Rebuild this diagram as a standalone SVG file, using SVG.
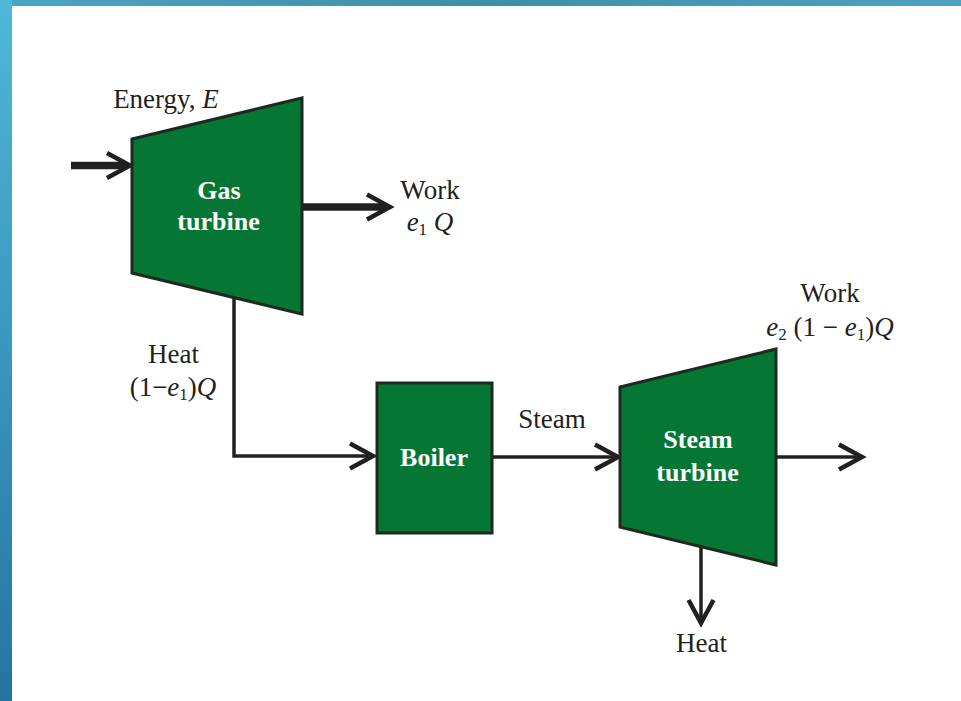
<svg xmlns="http://www.w3.org/2000/svg" width="961" height="701" viewBox="0 0 961 701">
<style>
.lbl{font-family:"Liberation Serif","Times New Roman",serif;font-size:27px;fill:#231f20;text-anchor:middle}
.in{font-family:"Liberation Serif","Times New Roman",serif;font-size:26px;font-weight:bold;fill:#ffffff;text-anchor:middle}
.it{font-style:italic}
.sub{font-size:17px}
.shape{fill:#067634;stroke:#1e2a20;stroke-width:3}
.thin{fill:none;stroke:#231f20;stroke-width:3.5}
.thick{fill:none;stroke:#231f20;stroke-width:7.5}
</style>
<defs>
<linearGradient id="gl" x1="0" y1="0" x2="0" y2="1">
<stop offset="0" stop-color="#4fb8d8"/>
<stop offset="1" stop-color="#2574a0"/>
</linearGradient>
<linearGradient id="gt" x1="0" y1="0" x2="1" y2="0">
<stop offset="0" stop-color="#4aa6c4"/>
<stop offset="0.5" stop-color="#3e8fa8"/>
<stop offset="1" stop-color="#4aa4c2"/>
</linearGradient>
<marker id="chev" markerUnits="userSpaceOnUse" orient="auto" refX="-4" refY="0" markerWidth="40" markerHeight="40" overflow="visible">
<path d="M-23,-12.5 L0,0 L-23,12.5" fill="none" stroke="#231f20" stroke-width="4.5" stroke-linejoin="miter" stroke-miterlimit="10"/>
</marker>
</defs>
<rect x="0" y="0" width="961" height="701" fill="#ffffff"/>
<rect x="0" y="0" width="961" height="6" fill="url(#gt)"/>
<rect x="0" y="0" width="12" height="701" fill="url(#gl)"/>

<g id="connectors">
<path class="thick" d="M71,165.5 L126,165.5" marker-end="url(#chev)"/>
<path class="thick" d="M302,207 L386,207" marker-end="url(#chev)"/>
<path class="thin" d="M234,298 L234,456 L369,456" marker-end="url(#chev)"/>
<path class="thin" d="M492,457 L614,457" marker-end="url(#chev)"/>
<path class="thin" d="M776,457 L858,457" marker-end="url(#chev)"/>
<path class="thin" d="M701,547 L701,619" marker-end="url(#chev)"/>
</g>

<g id="gas-turbine">
<polygon class="shape" points="132,139 302,98 302,314 132,273"/>
<text class="in" x="219" y="199">Gas</text>
<text class="in" x="218.5" y="230">turbine</text>
</g>

<g id="boiler">
<rect class="shape" x="377" y="383" width="115" height="150"/>
<text class="in" x="434" y="466">Boiler</text>
</g>

<g id="steam-turbine">
<polygon class="shape" points="620,387 776,349 776,565 620,527"/>
<text class="in" x="698" y="448">Steam</text>
<text class="in" x="697.5" y="481">turbine</text>
</g>

<g id="labels">
<text class="lbl" x="166" y="108">Energy, <tspan class="it">E</tspan></text>
<text class="lbl" x="430" y="199">Work</text>
<text class="lbl" x="430" y="231"><tspan class="it">e</tspan><tspan class="sub" dy="4">1</tspan><tspan dy="-4"> </tspan><tspan class="it">Q</tspan></text>
<text class="lbl" x="173.5" y="363">Heat</text>
<text class="lbl" x="173" y="396">(1−<tspan class="it">e</tspan><tspan class="sub" dy="4">1</tspan><tspan dy="-4">)</tspan><tspan class="it">Q</tspan></text>
<text class="lbl" x="552" y="428">Steam</text>
<text class="lbl" x="830" y="302">Work</text>
<text class="lbl" x="830" y="336"><tspan class="it">e</tspan><tspan class="sub" dy="4">2</tspan><tspan dy="-4"> (1 − </tspan><tspan class="it">e</tspan><tspan class="sub" dy="4">1</tspan><tspan dy="-4">)</tspan><tspan class="it">Q</tspan></text>
<text class="lbl" x="701.5" y="652">Heat</text>
</g>
</svg>
